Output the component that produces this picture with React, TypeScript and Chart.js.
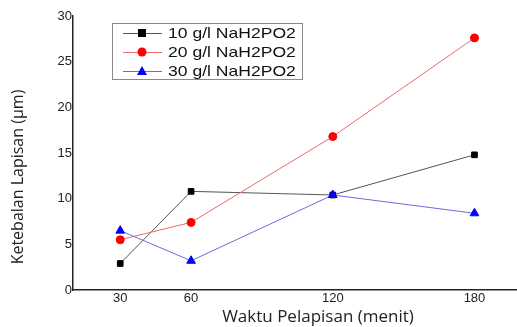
import React, { useEffect, useRef } from "react";
import { Chart, registerables } from "chart.js";

Chart.register(...registerables);

const times = [30, 60, 120, 180];
const s10 = [2.9, 10.8, 10.4, 14.8];
const s20 = [5.5, 7.4, 16.8, 27.6];
const s30 = [6.5, 3.2, 10.4, 8.4];
const labels = ["10 g/l NaH2PO2", "20 g/l NaH2PO2", "30 g/l NaH2PO2"];
const xTicks = [30, 60, 120, 180];
const xTitle = "Waktu Pelapisan (menit)";
const yTitle = "Ketebalan Lapisan (µm)";

const legendPlugin = {
  id: "insideLegend",
  afterDraw(chart: any) {
    const ctx = chart.ctx;
    ctx.save();
    const bx = 112, by = 23, bw = 190, bh = 56;
    ctx.strokeStyle = "#8a8a8a";
    ctx.lineWidth = 1;
    ctx.strokeRect(bx + 0.5, by + 0.5, bw, bh);
    const items = chart.data.datasets;
    const rows = [33, 52, 71];
    items.forEach((ds: any, i: number) => {
      const y = rows[i];
      ctx.strokeStyle = ds.borderColor;
      ctx.lineWidth = 1;
      ctx.beginPath();
      ctx.moveTo(123, y + 0.5);
      ctx.lineTo(162, y + 0.5);
      ctx.stroke();
      ctx.fillStyle = ds.pointBackgroundColor;
      ctx.beginPath();
      if (ds.pointStyle === "rect") {
        ctx.fillRect(138, y - 4, 8, 8);
      } else if (ds.pointStyle === "circle") {
        ctx.arc(142, y, 4.5, 0, Math.PI * 2);
        ctx.fill();
      } else {
        ctx.moveTo(142, y - 5);
        ctx.lineTo(147, y + 4);
        ctx.lineTo(137, y + 4);
        ctx.closePath();
        ctx.fill();
      }
      ctx.save();
      ctx.translate(168, y + 1);
      ctx.scale(1.17, 1);
      ctx.fillStyle = "#111";
      ctx.font = "15px 'Liberation Sans', Arial, sans-serif";
      ctx.textBaseline = "middle";
      ctx.textAlign = "left";
      ctx.fillText(ds.label, 0, 0);
      ctx.restore();
    });

    // axis titles
    ctx.fillStyle = "#222";
    ctx.textAlign = "center";
    ctx.textBaseline = "middle";
    ctx.font = "17px 'Open Sans', sans-serif";
    ctx.fillText(xTitle, 318, 317);
    ctx.save();
    ctx.translate(18, 177);
    ctx.rotate(-Math.PI / 2);
    ctx.font = "16px 'Open Sans', sans-serif";
    ctx.fillText(yTitle, 0, 0);
    ctx.restore();
    ctx.restore();
  },
};

export default function App() {
  const ref = useRef<HTMLCanvasElement>(null);
  useEffect(() => {
    const chart = new Chart(ref.current!, {
      type: "line",
      data: {
        datasets: [
          {
            label: labels[0],
            data: times.map((t, i) => ({ x: t, y: s10[i] })),
            borderColor: "#555555",
            backgroundColor: "#000000",
            pointBackgroundColor: "#000000",
            pointBorderColor: "#000000",
            pointStyle: "rect",
            pointRadius: 4,
            borderWidth: 1,
            order: 2,
          },
          {
            label: labels[1],
            data: times.map((t, i) => ({ x: t, y: s20[i] })),
            borderColor: "#e86a6a",
            backgroundColor: "#ff0000",
            pointBackgroundColor: "#ff0000",
            pointBorderColor: "#ff0000",
            pointStyle: "circle",
            pointRadius: 4,
            borderWidth: 1,
            order: 1,
          },
          {
            label: labels[2],
            data: times.map((t, i) => ({ x: t, y: s30[i] })),
            borderColor: "#6b6bdc",
            backgroundColor: "#0000ff",
            pointBackgroundColor: "#0000ff",
            pointBorderColor: "#0000ff",
            pointStyle: "triangle",
            pointRadius: 5,
            borderWidth: 1,
            order: 0,
          },
        ],
      },
      options: {
        animation: false,
        responsive: false,
        maintainAspectRatio: false,
        layout: { autoPadding: false, padding: { top: 16, right: 0, left: 0, bottom: 0 } },
        plugins: { legend: { display: false }, tooltip: { enabled: false } },
        scales: {
          x: {
            type: "linear",
            min: 10,
            max: 198,
            afterFit: (s: any) => { s.height = 37; s.paddingLeft = 0; s.paddingRight = 0; },
            afterBuildTicks: (s: any) => { s.ticks = xTicks.map((v) => ({ value: v })); },
            grid: { display: false, drawTicks: false },
            border: { display: true, color: "#222", width: 1.5 },
            ticks: {
              color: "#222",
              font: { family: "'Liberation Sans', Arial, sans-serif", size: 13 },
              padding: 1,
              autoSkip: false,
              maxRotation: 0,
            },
            title: { display: false },
          },
          y: {
            min: 0,
            max: 30,
            afterFit: (s: any) => { s.width = 73; },
            grid: { display: false, drawTicks: false },
            border: { display: true, color: "#222", width: 1.5 },
            ticks: {
              stepSize: 5,
              color: "#222",
              font: { family: "'Liberation Sans', Arial, sans-serif", size: 13 },
              padding: 1,
            },
            title: { display: false },
          },
        },
      },
      plugins: [legendPlugin],
    } as any);
    return () => chart.destroy();
  }, []);
  return (
    <div style={{ position: "fixed", left: 0, top: 0, width: 517, height: 327, background: "#fff" }}>
      <canvas ref={ref} width={517} height={327} style={{ width: 517, height: 327, display: "block" }} />
    </div>
  );
}
